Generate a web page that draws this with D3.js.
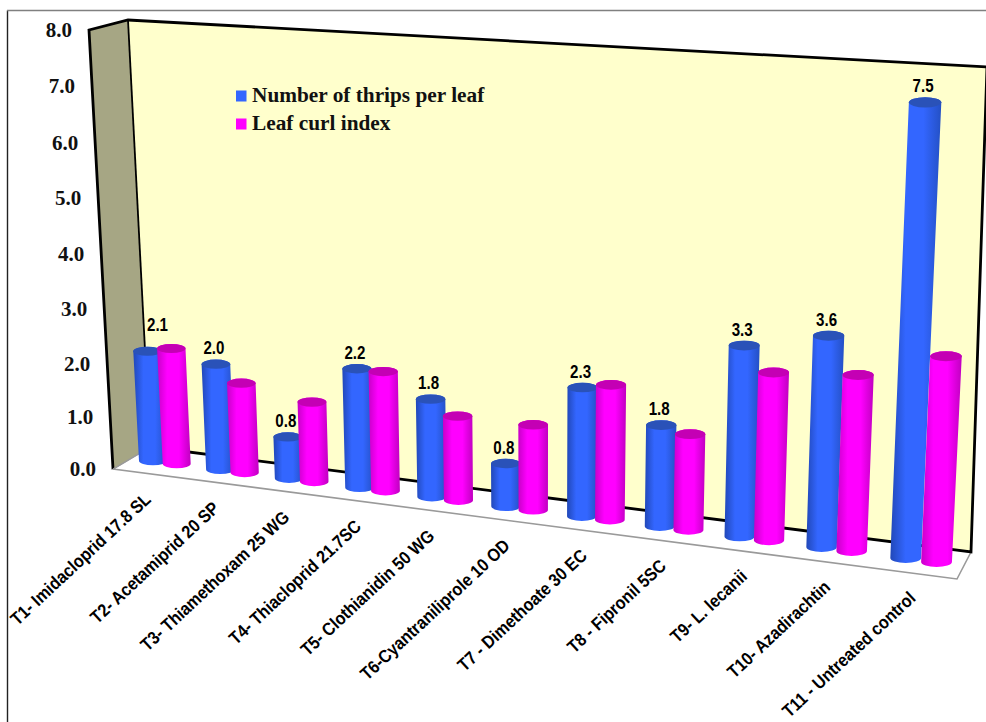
<!DOCTYPE html>
<html>
<head>
<meta charset="utf-8">
<script src="https://cdn.jsdelivr.net/npm/d3@7/dist/d3.min.js"></script>
<style>
  html, body { margin: 0; padding: 0; background: #fff; }
  svg { display: block; }
</style>
</head>
<body>
<svg id="chart" width="986" height="722"></svg>
<script>
// Treatments on the floor axis
const categories = [
  "T1- Imidacloprid 17.8 SL", "T2- Acetamiprid 20 SP", "T3- Thiamethoxam 25 WG",
  "T4- Thiacloprid 21.7SC", "T5- Clothianidin 50 WG", "T6-Cyantraniliprole 10 OD",
  "T7 - Dimethoate 30 EC", "T8 - Fipronil 5SC", "T9- L. lecanii",
  "T10- Azadirachtin", "T11 - Untreated control"
];
const seriesNames = ["Number of thrips per leaf", "Leaf curl index"];
const thrips = [2.1, 2.0, 0.8, 2.2, 1.8, 0.8, 2.3, 1.8, 3.3, 3.6, 7.5];
const curl = [2.2, 1.7, 1.5, 2.2, 1.55, 1.55, 2.4, 1.7, 2.9, 3.0, 3.45];
const ticks = [0, 1, 2, 3, 4, 5, 6, 7, 8];

// Corners of the box: b = back, f = front, l = left, r = right, 0 = floor, 1 = ceiling
const box = {
  bl0: [150, 447], br0: [971, 552], fl0: [113, 469], fr0: [957, 579],
  bl1: [128, 20],  br1: [987, 67],  fl1: [89, 30],   fr1: [989, 82]
};

// Perspective stretches the axes towards the viewer
const FORESHORTEN = 0.117;
const valueScale = d3.scalePow().exponent(1.03).domain([0, 8]).range([0, 1]);
const catIndex = d3.scaleLinear().domain([0, 10]).range([0, 1]);
const catRange = d3.scaleLinear().domain([0, 1]).range([0.0258, 0.93]);
const catScale = i => {
  const t = catIndex(i);
  return catRange(t * (1 - FORESHORTEN) / (1 - FORESHORTEN * t));
};
const offsetScale = d3.scaleLinear().domain([0, 10]).range([0.0285, 0.037]);
const radiusScale = d3.scaleLinear().domain([0, 10]).range([0.0168, 0.0185]);
const labelDx = d3.scaleLinear().domain([0, 10]).range([-1, 11]);
const labelDy = d3.scaleLinear().domain([0, 10]).range([40, 41.5]);

const lerp = (a, b, t) => [a[0] + (b[0] - a[0]) * t, a[1] + (b[1] - a[1]) * t];

// u along the categories, s from back wall to front edge, f share of the axis height
function project(u, s, f) {
  const floor = lerp(lerp(box.bl0, box.br0, u), lerp(box.fl0, box.fr0, u), s);
  const ceil = lerp(lerp(box.bl1, box.br1, u), lerp(box.fl1, box.fr1, u), s);
  return lerp(floor, ceil, f);
}

const svg = d3.select("#chart");
const defs = svg.append("defs");

const palette = [
  { id: "blueBody", edgeL: "#2148b8", mid: "#3366ff", edgeR: "#2450c4", cap: "#2a52b8", key: "#3366ff" },
  { id: "pinkBody", edgeL: "#c800c8", mid: "#ff00ff", edgeR: "#c000c0", cap: "#c400b4", key: "#ff00ff" }
];
palette.forEach(p => {
  const g = defs.append("linearGradient").attr("id", p.id).attr("x1", 0).attr("x2", 1).attr("y1", 0).attr("y2", 0);
  [[0, p.edgeL], [0.3, p.mid], [0.65, p.mid], [1, p.edgeR]].forEach(([o, c]) =>
    g.append("stop").attr("offset", o).attr("stop-color", c));
});

const poly = pts => d3.line()(pts) + "Z";

// Outer picture frame
svg.append("path").attr("d", "M7.5,722V10.5").attr("stroke", "#222").attr("stroke-width", 1.4).attr("fill", "none");
svg.append("path").attr("d", "M7,10.5H986").attr("stroke", "#808080").attr("stroke-width", 1.6).attr("fill", "none");

// Walls and floor
svg.append("path").attr("d", poly([box.bl0, box.br0, box.fr0, box.fl0]))
  .attr("fill", "#fff").attr("stroke", "#9a9a9a").attr("stroke-width", 1.6);
svg.append("path").attr("d", poly([box.bl1, box.br1, box.br0, box.bl0])).attr("fill", "#ffffcc");
svg.append("path").attr("d", poly([box.fl1, box.bl1, box.bl0, box.fl0])).attr("fill", "#a6a684");
svg.append("path").attr("d", d3.line()([box.fl0, box.fl1, box.bl1, box.br1]))
  .attr("fill", "none").attr("stroke", "#000").attr("stroke-width", 2.8).attr("stroke-linejoin", "miter");
svg.append("path").attr("d", d3.line()([box.bl1, box.bl0])).attr("fill", "none").attr("stroke", "#000").attr("stroke-width", 1.8);
svg.append("path").attr("d", d3.line()([box.bl0, box.br0, box.br1])).attr("fill", "none").attr("stroke", "#000").attr("stroke-width", 2.8);
svg.append("path").attr("d", d3.line()([box.fl0, box.bl0])).attr("fill", "none").attr("stroke", "#9a9a9a").attr("stroke-width", 1.4);

// Value axis labels follow the front-left edge
svg.append("g").selectAll("text").data(ticks).join("text")
  .attr("x", d => project(0, 1, valueScale(d))[0] - 17)
  .attr("y", d => project(0, 1, valueScale(d))[1] + 7)
  .attr("text-anchor", "end")
  .attr("font-family", "'Liberation Serif', serif").attr("font-weight", "bold").attr("font-size", 21)
  .attr("fill", "#111")
  .text(d => d3.format(".1f")(d));

// Cylinders, blue then magenta in each group so magenta overlaps
const DEPTH = 0.5;
const capRatio = 0.32;
function cylinder(g, i, k, value) {
  const p = palette[k];
  const u = catScale(i) + (k ? offsetScale(i) : 0);
  const w = radiusScale(i);
  const f = valueScale(value);
  const c0 = project(u, DEPTH, 0), c1 = project(u, DEPTH, f);
  const r0 = (project(u + w, DEPTH, 0)[0] - project(u - w, DEPTH, 0)[0]) / 2;
  const r1 = (project(u + w, DEPTH, f)[0] - project(u - w, DEPTH, f)[0]) / 2;
  const ry0 = r0 * capRatio, ry1 = r1 * capRatio;
  g.append("path")
    .attr("d", `M${c0[0] - r0},${c0[1]}L${c1[0] - r1},${c1[1]}A${r1},${ry1} 0 0 1 ${c1[0] + r1},${c1[1]}` +
               `L${c0[0] + r0},${c0[1]}A${r0},${ry0} 0 0 1 ${c0[0] - r0},${c0[1]}Z`)
    .attr("fill", `url(#${p.id})`);
  g.append("ellipse").attr("cx", c1[0]).attr("cy", c1[1]).attr("rx", r1).attr("ry", ry1).attr("fill", p.cap);
  return c1;
}

const bars = svg.append("g");
const labelTops = [];
categories.forEach((_, i) => {
  labelTops.push(cylinder(bars, i, 0, thrips[i]));
  cylinder(bars, i, 1, curl[i]);
});

// Value labels above the blue cylinders; the first one clears its taller neighbour
svg.append("g").selectAll("text").data(thrips).join("text")
  .attr("transform", (d, i) => {
    const t = labelTops[i];
    const x = t[0] + (i === 0 ? 10 : -2);
    const y = t[1] + (i === 0 ? -20 : -10);
    return `translate(${x},${y}) scale(0.84,1)`;
  })
  .attr("text-anchor", "middle")
  .attr("font-family", "'Liberation Sans', Arial, sans-serif").attr("font-weight", "bold").attr("font-size", 18)
  .attr("fill", "#000")
  .text(d => d3.format(".1f")(d));

// Category labels hang from the front floor edge at about 43 degrees
svg.append("g").selectAll("text").data(categories).join("text")
  .attr("transform", (d, i) => {
    const a = project(catScale(i), 0.5, 0);
    return `translate(${a[0] + labelDx(i)},${a[1] + labelDy(i)}) rotate(-43) scale(0.89,1)`;
  })
  .attr("text-anchor", "end")
  .attr("font-family", "'Liberation Sans', Arial, sans-serif").attr("font-weight", "bold").attr("font-size", 18)
  .attr("fill", "#000")
  .text(d => d);

// Legend
const legend = svg.append("g").selectAll("g").data(seriesNames).join("g");
legend.append("rect").attr("x", 236).attr("y", (d, i) => 90.5 + i * 28).attr("width", 10.5).attr("height", 11)
  .attr("fill", (d, i) => palette[i].key);
legend.append("text").attr("x", 252).attr("y", (d, i) => 102 + i * 27.5)
  .attr("font-family", "'Liberation Serif', serif").attr("font-weight", "bold").attr("font-size", 21.3)
  .attr("fill", "#111").text(d => d);
</script>
</body>
</html>
